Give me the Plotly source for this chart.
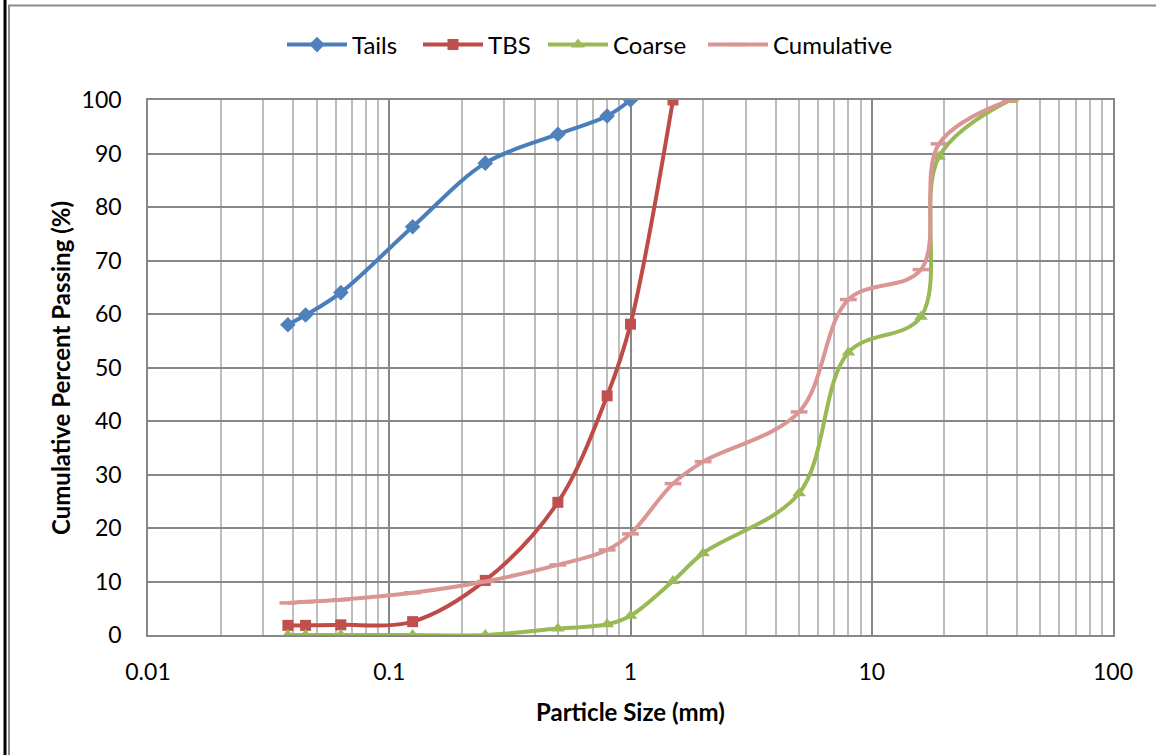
import plotly.graph_objects as go

# ---- data ----
sizes_fine = [0.038, 0.045, 0.063, 0.125, 0.25, 0.5, 0.8, 1.0]
tails = [58.0, 59.8, 64.0, 76.3, 88.2, 93.6, 97.0, 100.0]

sizes_tbs = [0.038, 0.045, 0.063, 0.125, 0.25, 0.5, 0.8, 1.0, 1.5]
tbs = [1.8, 1.8, 1.9, 2.5, 10.2, 24.8, 44.7, 58.1, 100.0]

sizes_all = [0.038, 0.045, 0.063, 0.125, 0.25, 0.5, 0.8, 1.0, 1.5, 2.0, 5.0, 8.0, 16.0, 19.0, 37.5]
coarse = [0.0, 0.0, 0.0, 0.0, 0.0, 1.2, 2.0, 3.6, 10.1, 15.3, 26.5, 52.8, 59.5, 89.4, 100.0]
cumulative = [6.0, 6.2, 6.6, 7.9, 10.0, 13.1, 15.9, 18.9, 28.3, 32.4, 41.7, 62.7, 68.3, 91.8, 100.0]

x_ticks = [0.01, 0.1, 1, 10, 100]
x_tick_labels = ["0.01", "0.1", "1", "10", "100"]
y_ticks = [0, 10, 20, 30, 40, 50, 60, 70, 80, 90, 100]
minor_x = [m * d for d in [0.01, 0.1, 1, 10] for m in range(2, 10)]

FONT = "Lato, 'Open Sans', sans-serif"
W, H = 1156, 755
L, R, T, B = 148, 43, 100, 120
pw, ph = W - L - R, H - T - B


def px_x(p):
    return (p - L) / pw


def px_y(p):
    return (H - B - p) / ph


fig = go.Figure()
fig.add_trace(go.Scatter(
    x=sizes_fine, y=tails, name="Tails", mode="lines+markers", legend="legend",
    line=dict(color="#4a7ebb", width=4, shape="spline", smoothing=1),
    marker=dict(symbol="diamond", size=12, color="#4f81bd", line=dict(width=0))))
fig.add_trace(go.Scatter(
    x=sizes_tbs, y=tbs, name="TBS", mode="lines+markers", legend="legend2",
    line=dict(color="#be4b48", width=4, shape="spline", smoothing=1),
    marker=dict(symbol="square", size=11, color="#c0504d", line=dict(width=0))))
fig.add_trace(go.Scatter(
    x=sizes_all, y=coarse, name="Coarse", mode="lines+markers", legend="legend3",
    line=dict(color="#98b954", width=4, shape="spline", smoothing=1),
    marker=dict(symbol="triangle-up", size=12, color="#9bbb59", line=dict(width=0))))
fig.add_trace(go.Scatter(
    x=sizes_all, y=cumulative, name="Cumulative", mode="lines+markers", legend="legend4",
    line=dict(color="#d99694", width=4, shape="spline", smoothing=1),
    marker=dict(symbol="line-ew", size=12, color="#d99694",
                line=dict(width=3.5, color="#d99694"))))


def legend_at(px_left):
    return dict(orientation="h", x=px_x(px_left), xanchor="left",
                y=px_y(45), yanchor="middle",
                font=dict(family=FONT, size=24, color="black"),
                itemwidth=60, bgcolor="rgba(0,0,0,0)")


fig.update_layout(
    width=W, height=H,
    margin=dict(l=L, r=R, t=T, b=B),
    paper_bgcolor="white", plot_bgcolor="white",
    font=dict(family=FONT, size=23, color="black"),
    showlegend=True,
    legend=legend_at(288 - 6),
    legend2=legend_at(424 - 6),
    legend3=legend_at(549 - 6),
    legend4=legend_at(709 - 6),
    xaxis=dict(type="log", range=[-2, 2],
               tickvals=x_ticks, ticktext=x_tick_labels,
               showgrid=True, gridcolor="#878787", gridwidth=1.5,
               minor=dict(tickvals=minor_x, showgrid=True,
                          gridcolor="#bdbdbd", gridwidth=1.5, ticks=""),
               showline=True, linecolor="#878787", linewidth=1.5, mirror=True,
               ticks="", ticklabelstandoff=16, zeroline=False,
               tickfont=dict(size=23)),
    yaxis=dict(range=[0, 100], tickvals=y_ticks,
               showgrid=True, gridcolor="#878787", gridwidth=1.5,
               showline=True, linecolor="#878787", linewidth=1.5, mirror=True,
               ticks="", ticklabelstandoff=20, zeroline=False,
               tickfont=dict(size=23)),
    annotations=[
        dict(text="<b>Particle Size (mm)</b>", xref="paper", yref="paper",
             x=px_x(630), y=px_y(711), xanchor="center", yanchor="middle",
             showarrow=False, font=dict(family=FONT, size=24)),
        dict(text="<b>Cumulative Percent Passing (%)</b>", xref="paper", yref="paper",
             x=px_x(60), y=px_y(368), xanchor="center", yanchor="middle",
             textangle=-90, showarrow=False, font=dict(family=FONT, size=24)),
    ],
    shapes=[
        dict(type="line", xref="paper", yref="paper",
             x0=px_x(5), x1=px_x(5), y0=px_y(0), y1=px_y(H),
             line=dict(color="black", width=3)),
        dict(type="line", xref="paper", yref="paper",
             x0=px_x(9), x1=px_x(9), y0=px_y(5.5), y1=px_y(H),
             line=dict(color="#8c8c8c", width=2)),
        dict(type="line", xref="paper", yref="paper",
             x0=px_x(8), x1=px_x(W), y0=px_y(5.5), y1=px_y(5.5),
             line=dict(color="#8c8c8c", width=2)),
    ],
)

fig.write_html("out.html", config={"displayModeBar": False},
               post_script="document.body.style.margin='0';document.body.style.overflow='hidden';")
